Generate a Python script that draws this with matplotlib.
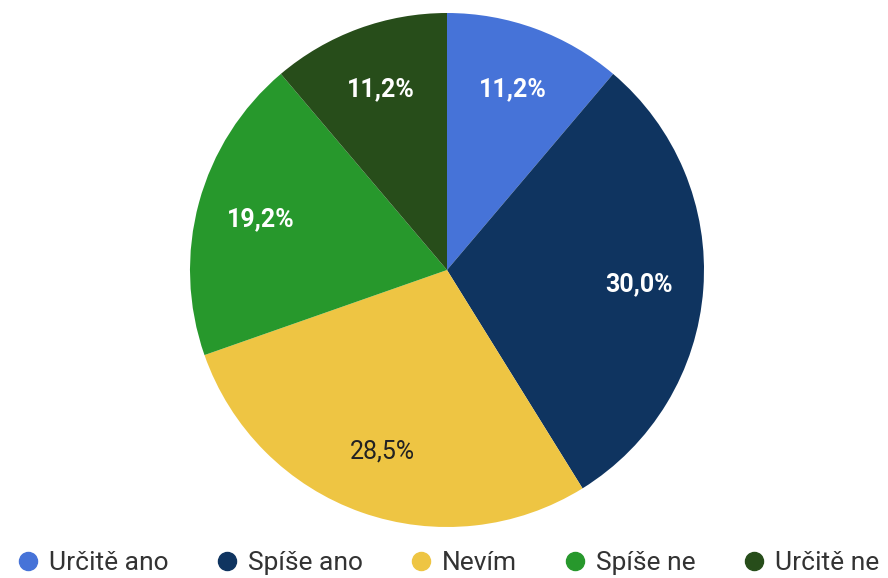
import matplotlib.pyplot as plt
from matplotlib.lines import Line2D

labels = ["Určitě ano", "Spíše ano", "Nevím", "Spíše ne", "Určitě ne"]
values = [11.2, 30.0, 28.5, 19.2, 11.2]
colors = ["#4673d8", "#0f3460", "#eec543", "#27982c", "#274d1a"]
text_colors = ["white", "white", "#222222", "white", "white"]

plt.rcParams['font.family'] = ['Roboto', 'DejaVu Sans']

fig = plt.figure(figsize=(8.88, 5.78), dpi=100)
cx, cy, r = 447, 270, 257
ax = fig.add_axes([(cx - r) / 888, (578 - cy - r) / 578, 2 * r / 888, 2 * r / 578])

wedges, texts, autotexts = ax.pie(
    values, colors=colors, startangle=90, counterclock=False,
    autopct=lambda p: "", pctdistance=0.75, radius=1.0,
    wedgeprops=dict(linewidth=0))
for at, v, tc in zip(autotexts, values, text_colors):
    at.set_text(f"{v:.1f}%".replace(".", ","))
    at.set_color(tc)
    at.set_fontsize(18)
    at.set_fontweight("bold" if tc == "white" else "normal")
ax.set_aspect("equal")
ax.set_xlim(-1, 1)
ax.set_ylim(-1, 1)

handles = [Line2D([], [], marker="o", linestyle="", markersize=13,
                  markerfacecolor=c, markeredgecolor=c) for c in colors]
fig.legend(handles, labels, loc="center", bbox_to_anchor=(0.505, 1 - 563 / 578),
           ncol=5, frameon=False, fontsize=19, labelcolor="#333333",
           handletextpad=0.4, columnspacing=1.8, handlelength=0.8,
           borderpad=0, borderaxespad=0)

fig.savefig("out.png", dpi=100)
